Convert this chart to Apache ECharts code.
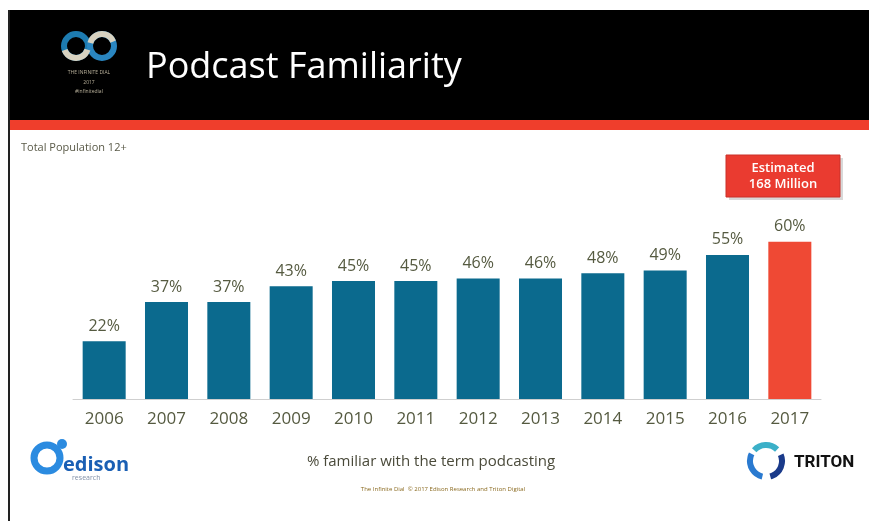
<!DOCTYPE html>
<html><head><meta charset="utf-8">
<script src="https://cdn.jsdelivr.net/npm/echarts@6/dist/echarts.min.js"></script>
<style>html,body{margin:0;padding:0;background:#fff}#c{width:869px;height:521px}</style>
</head><body><div id="c"></div>
<script>
const years = ['2006','2007','2008','2009','2010','2011','2012','2013','2014','2015','2016','2017'];
const familiarity = [22,37,37,43,45,45,46,46,48,49,55,60];
const highlightYear = '2017';
const titleText = 'Podcast Familiarity';
const subtitleText = 'Total Population 12+';
const footnoteText = '% familiar with the term podcasting';
const creditText = 'The Infinite Dial  \u00a9 2017 Edison Research and Triton Digital';
const calloutText = 'Estimated\n168 Million';

const blue = '#0b6a8e', red = '#ef4934', labelColor = '#555a40';
const chart = echarts.init(document.getElementById('c'), null, {renderer:'canvas'});
const font = '"Open Sans", "Noto Sans", sans-serif';

chart.setOption({
  animation:false,
  grid:{left:73, right:48, top:137, bottom:122},
  xAxis:{type:'category', data:years,
    axisLine:{lineStyle:{color:'#cfcfcf', width:1}},
    axisTick:{show:false},
    axisLabel:{color:labelColor, fontSize:17, fontFamily:font, margin:12}},
  yAxis:{type:'value', min:0, max:100, show:false, splitLine:{show:false}},
  series:[{type:'bar', barWidth:'69%',
    data:familiarity.map((v,i)=>({value:v, itemStyle:{color: years[i]===highlightYear?red:blue}})),
    label:{show:true, position:'top', distance:7, formatter:'{c}%', color:labelColor, fontSize:16, fontFamily:font}
  }],
  graphic:[
    {type:'rect', shape:{x:9,y:10,width:860,height:111}, style:{fill:'#000'}},
    {type:'rect', shape:{x:9,y:120,width:860,height:10}, style:{fill:'#ef3e2c'}},
    {type:'rect', shape:{x:8,y:10,width:2,height:511}, style:{fill:'#222'}},
    // infinity logo
    {type:'circle', shape:{cx:76,cy:46,r:12}, style:{fill:'none', stroke:'#1d7bb0', lineWidth:6}},
    {type:'circle', shape:{cx:102,cy:46,r:12}, style:{fill:'none', stroke:'#2a86c0', lineWidth:6}},
    {type:'arc', shape:{cx:76,cy:46,r:12,startAngle:0.3,endAngle:2.8}, style:{fill:'none', stroke:'#d8d2c0', lineWidth:6}},
    {type:'arc', shape:{cx:102,cy:46,r:12,startAngle:3.4,endAngle:5.9}, style:{fill:'none', stroke:'#d8d2c0', lineWidth:6}},
    {type:'text', style:{x:89,y:73,text:'THE INFINITE DIAL', fill:'#b8b09a', font:'5px '+font, align:'center', verticalAlign:'middle'}},
    {type:'text', style:{x:89,y:83,text:'2017', fill:'#b8b09a', font:'5px '+font, align:'center', verticalAlign:'middle'}},
    {type:'text', style:{x:89,y:92,text:'#infinitedial', fill:'#b8b09a', font:'5px '+font, align:'center', verticalAlign:'middle'}},
    {type:'text', style:{x:146,y:68,text:titleText, fill:'#fff', font:'36px '+font, verticalAlign:'middle'}},
    {type:'text', style:{x:21,y:148,text:subtitleText, fill:'#5a5a48', font:'11px '+font, verticalAlign:'middle'}},
    // callout
    {type:'rect', shape:{x:729,y:158,width:114,height:42}, style:{fill:'#d8d8d8'}},
    {type:'rect', shape:{x:726,y:155,width:114,height:42}, style:{fill:'#ea3b30', stroke:'#c93028', lineWidth:1}},
    {type:'text', style:{x:783,y:176,text:calloutText, fill:'#fff', font:'600 13px '+font, align:'center', verticalAlign:'middle', lineHeight:16}},
    // footer
    {type:'text', style:{x:431,y:462,text:footnoteText, fill:'#4a4a3a', font:'15px '+font, align:'center', verticalAlign:'middle'}},
    {type:'text', style:{x:443,y:489,text:creditText, fill:'#8a6a20', font:'6px '+font, align:'center', verticalAlign:'middle'}},
    // edison logo
    {type:'circle', shape:{cx:47,cy:458,r:13}, style:{fill:'none', stroke:'#2b8be0', lineWidth:7}},
    {type:'circle', shape:{cx:62,cy:444,r:5}, style:{fill:'#2b8be0'}},
    {type:'text', style:{x:63,y:465,text:'edison', fill:'#1a5fb4', font:'bold 20px '+font, verticalAlign:'middle'}},
    {type:'text', style:{x:72,y:478,text:'research', fill:'#8090a8', font:'7px '+font, verticalAlign:'middle'}},
    // triton logo
    {type:'arc', shape:{cx:766,cy:461,r:16,startAngle:-2.4,endAngle:-0.8}, style:{fill:'none', stroke:'#3bb0c8', lineWidth:6}},
    {type:'arc', shape:{cx:766,cy:461,r:16,startAngle:-0.4,endAngle:1.3}, style:{fill:'none', stroke:'#1a3a8a', lineWidth:6}},
    {type:'arc', shape:{cx:766,cy:461,r:16,startAngle:1.8,endAngle:3.6}, style:{fill:'none', stroke:'#2a7ad0', lineWidth:6}},
    {type:'text', style:{x:794,y:463,text:'TRITON', fill:'#111', font:'bold 17px "Liberation Sans Narrow", "Roboto", sans-serif', verticalAlign:'middle'}}
  ]
});
</script></body></html>
